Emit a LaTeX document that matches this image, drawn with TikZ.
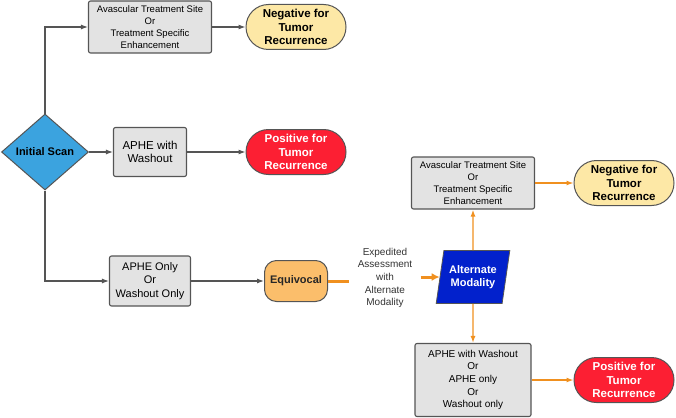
\documentclass[tikz,border=0pt]{standalone}
\usepackage{fontspec}
\setmainfont{Liberation Sans}
\usepackage{tikz}
\usetikzlibrary{arrows.meta}
\usetikzlibrary{shapes.geometric, shapes.misc}

\definecolor{boxgray}{HTML}{E3E3E3}
\definecolor{linegray}{HTML}{555555}
\definecolor{negyellow}{HTML}{FDE8A6}
\definecolor{posred}{HTML}{FC1F33}
\definecolor{equivorange}{HTML}{FBBE6B}
\definecolor{scanblue}{HTML}{3BA3DF}
\definecolor{altblue}{HTML}{0221CC}
\definecolor{arrorange}{HTML}{F0901F}

\begin{document}
\begin{tikzpicture}[x=1pt, y=-1pt,
  box/.style={draw=linegray, line width=1.1pt, fill=boxgray, rounded corners=2pt, inner sep=0pt, align=center},
  term/.style={rounded rectangle, draw=linegray, line width=1pt, inner sep=0pt, minimum width=100pt, minimum height=45pt, align=center, font=\fontsize{11.5}{13.5}\selectfont\bfseries},
  conn/.style={draw=linegray, line width=1.1pt, -{Latex[length=7pt, width=5pt]}},
  oconn/.style={draw=arrorange, line width=1.3pt, -{Latex[length=7pt, width=5pt]}}]
\useasboundingbox (0,0) rectangle (676,417);
% initial scan
\node [diamond, draw=linegray, line width=1pt, fill=scanblue, inner sep=0pt, minimum width=87pt, minimum height=76pt, font=\fontsize{11}{13}\selectfont\bfseries] (scan) at (45,152) {Initial Scan};
% first scan outcomes
\node [box, minimum width=123pt, minimum height=52pt, font=\fontsize{9.5}{11.8}\selectfont] (avas) at (150,27) {Avascular Treatment Site\\Or\\Treatment Specific\\Enhancement};
\node [box, minimum width=73pt, minimum height=49pt, font=\fontsize{11.5}{13.4}\selectfont] (aphe) at (150,152) {APHE with\\Washout};
\node [box, minimum width=81pt, minimum height=50pt, font=\fontsize{11}{13.6}\selectfont] (only) at (150,281) {APHE Only\\Or\\Washout Only};
\node [term, fill=negyellow] (neg) at (296,27) {Negative for\\Tumor\\Recurrence};
\node [term, fill=posred, text=white] (pos) at (296,152) {Positive for\\Tumor\\Recurrence};
\node [draw=linegray, line width=1pt, fill=equivorange, rounded corners=12pt, inner sep=0pt, minimum width=63pt, minimum height=41pt, font=\fontsize{11}{13}\selectfont\bfseries, text=black!85] (equiv) at (296,281) {Equivocal};
% alternate modality
\node [align=center, text width=57pt, inner xsep=7pt, font=\fontsize{10}{12.7}\selectfont, text=black!80] (expl) at (385,278) {Expedited\\Assessment\\with\\Alternate\\Modality};
\node [trapezium, trapezium left angle=75, trapezium right angle=105, trapezium stretches=true, draw=linegray, line width=0.8pt, fill=altblue, text=white, inner sep=0pt, minimum width=74pt, minimum height=53pt, align=center, font=\fontsize{11}{13.3}\selectfont\bfseries] (alt) at (473,277) {Alternate\\Modality};
\node [box, minimum width=123pt, minimum height=52pt, font=\fontsize{9.5}{11.8}\selectfont] (avas2) at (473,183) {Avascular Treatment Site\\Or\\Treatment Specific\\Enhancement};
\node [box, minimum width=116pt, minimum height=73pt, font=\fontsize{10}{12.7}\selectfont] (low2) at (473,380) {APHE with Washout\\Or\\APHE only\\Or\\Washout only};
\node [term, fill=negyellow] (neg2) at (624,183) {Negative for\\Tumor\\Recurrence};
\node [term, fill=posred, text=white] (pos2) at (624,380) {Positive for\\Tumor\\Recurrence};
% connectors
\draw [conn] (scan.north) |- (avas.west);
\draw [conn] (scan.east) -- (aphe.west);
\draw [conn] (scan.south) |- (only.west);
\draw [conn] (avas) -- (neg);
\draw [conn] (aphe) -- (pos);
\draw [conn] (only) -- (equiv);
\draw [draw=arrorange, line width=3pt] (equiv.east) -- (equiv.east -| expl.west);
\draw [draw=arrorange, line width=3pt, -{Latex[length=8pt, width=8pt]}] (expl.east |- alt.west) -- (alt.west);
\draw [oconn] (alt) -- (avas2);
\draw [oconn] (alt) -- (low2);
\draw [oconn] (avas2) -- (neg2);
\draw [oconn] (low2) -- (pos2);
\end{tikzpicture}
\end{document}
